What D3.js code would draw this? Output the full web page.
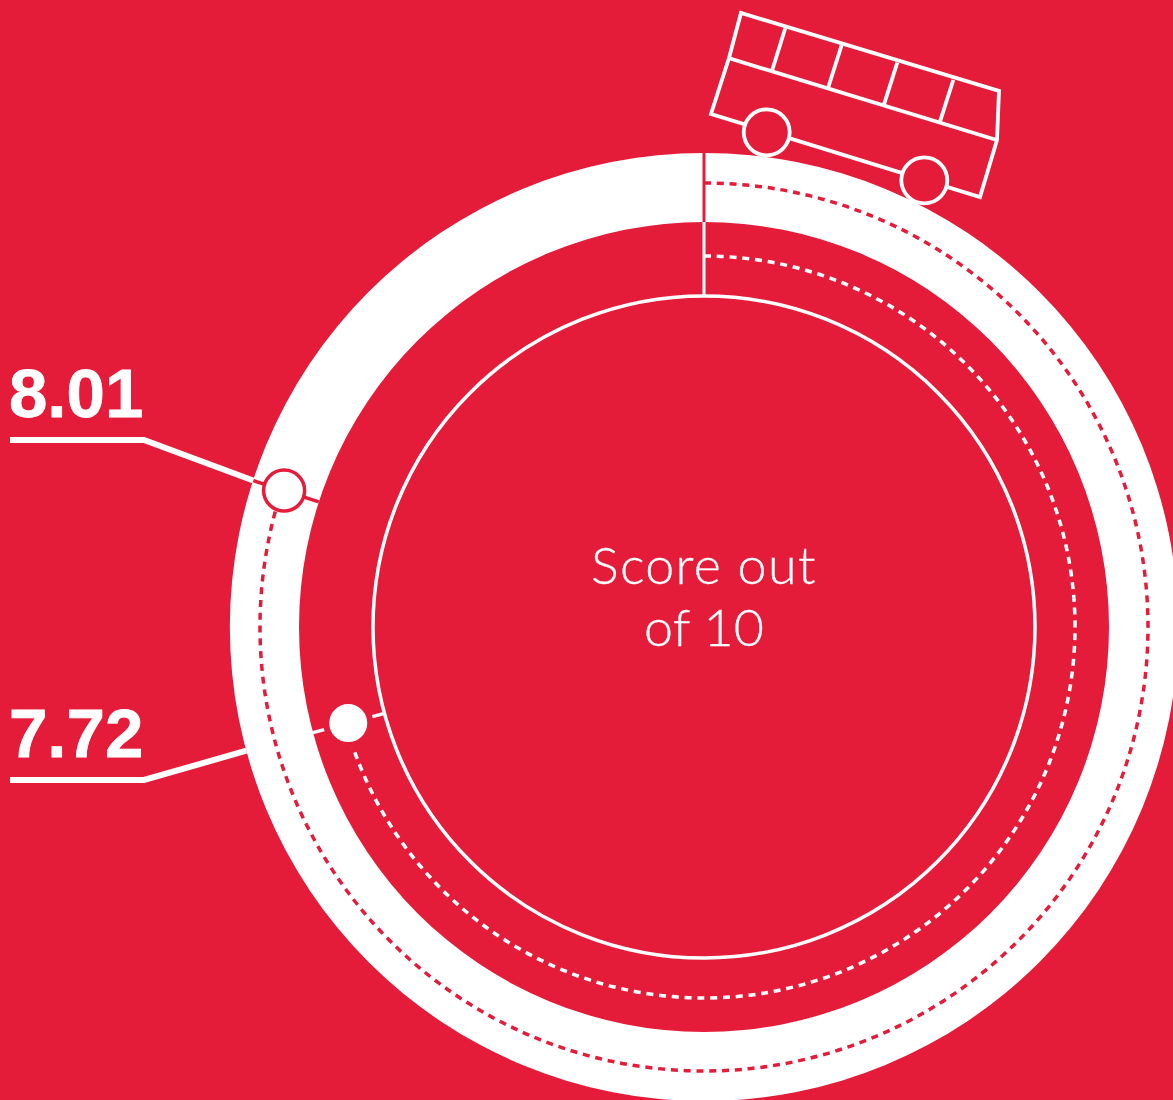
<!DOCTYPE html>
<html>
<head>
<meta charset="utf-8">
<script src="https://cdn.jsdelivr.net/npm/d3@7"></script>
<style>
    html, body { margin: 0; padding: 0; background: #e41c3a; overflow: hidden; }
    svg { display: block; }
</style>
</head>
<body>
<div id="chart-container"></div>
<script>
// score text next to each leader, and where the marker actually sits on the 0-10 dial
const scoreLabels = ["8.01", "7.72"];
const markerScores = [8.0, 7.08];
const ringNames = ["outer", "inner"];
const centerLines = ["Score out", "of 10"];

const width = 1173;
const height = 1100;
const red = "#e41c3a";
const cx = 704;
const cy = 627;

const bandOuter = 474;
const bandInner = 405;
const innerCircle = 331;
const trackRadius = { outer: 444, inner: 371 };
const markerRadius = { outer: 441.5, inner: 368.5 };
const labelLineY = [440, 780];
const labelBaseY = [417, 757];

const angle = d3.scaleLinear().domain([0, 10]).range([0, 2 * Math.PI]);

// angle 0 is at 12 o'clock, going clockwise
function polar(score, r) {
    const a = angle(score);
    return [cx + r * Math.sin(a), cy - r * Math.cos(a)];
}

const svg = d3.select("#chart-container")
    .append("svg")
    .attr("width", width)
    .attr("height", height);

svg.append("rect")
    .attr("width", width)
    .attr("height", height)
    .attr("fill", red);

const dial = svg.append("g")
    .attr("transform", "translate(" + cx + "," + cy + ")");

dial.append("path")
    .attr("d", d3.arc()
        .innerRadius(bandInner)
        .outerRadius(bandOuter)
        .startAngle(0)
        .endAngle(2 * Math.PI)())
    .attr("fill", "white");

dial.append("circle")
    .attr("r", innerCircle)
    .attr("fill", "none")
    .attr("stroke", "white")
    .attr("stroke-width", 3.5);

// start ticks at 10 (top of the dial)
svg.append("line")
    .attr("x1", polar(0, bandOuter)[0]).attr("y1", polar(0, bandOuter)[1])
    .attr("x2", polar(0, bandInner)[0]).attr("y2", polar(0, bandInner)[1])
    .attr("stroke", red)
    .attr("stroke-width", 3);

svg.append("line")
    .attr("x1", polar(0, bandInner)[0]).attr("y1", polar(0, bandInner)[1])
    .attr("x2", polar(0, innerCircle)[0]).attr("y2", polar(0, innerCircle)[1])
    .attr("stroke", "white")
    .attr("stroke-width", 3);

// dashed tracks from the top round to each marker
ringNames.forEach(function(name, i) {
    const p = d3.path();
    p.arc(0, 0, trackRadius[name],
        -Math.PI / 2,
        angle(markerScores[i]) - Math.PI / 2);
    dial.append("path")
        .attr("d", p.toString())
        .attr("fill", "none")
        .attr("stroke", i === 0 ? red : "white")
        .attr("stroke-width", 3.5)
        .attr("stroke-dasharray", "7 5.8");
});

// radial ticks through each marker
svg.append("line")
    .attr("x1", polar(markerScores[0], bandOuter)[0]).attr("y1", polar(markerScores[0], bandOuter)[1])
    .attr("x2", polar(markerScores[0], bandInner)[0]).attr("y2", polar(markerScores[0], bandInner)[1])
    .attr("stroke", red)
    .attr("stroke-width", 3.5);

svg.append("line")
    .attr("x1", polar(markerScores[1], bandInner)[0]).attr("y1", polar(markerScores[1], bandInner)[1])
    .attr("x2", polar(markerScores[1], innerCircle)[0]).attr("y2", polar(markerScores[1], innerCircle)[1])
    .attr("stroke", "white")
    .attr("stroke-width", 3.5);

// markers
ringNames.forEach(function(name, i) {
    const pos = polar(markerScores[i], markerRadius[name]);
    svg.append("circle")
        .attr("cx", pos[0])
        .attr("cy", pos[1])
        .attr("r", i === 0 ? 20.5 : 22)
        .attr("fill", "white")
        .attr("stroke", red)
        .attr("stroke-width", i === 0 ? 3.5 : 6);
});

// leaders and score labels
scoreLabels.forEach(function(label, i) {
    const end = polar(markerScores[i], bandOuter);
    svg.append("path")
        .attr("d", d3.line()([[10, labelLineY[i]], [144, labelLineY[i]], end]))
        .attr("fill", "none")
        .attr("stroke", "white")
        .attr("stroke-width", 6);

    svg.append("text")
        .attr("x", 9)
        .attr("y", labelBaseY[i])
        .attr("fill", "white")
        .attr("stroke", "white")
        .attr("stroke-width", 0.8)
        .style("font-family", "'Liberation Sans', Arial, sans-serif")
        .style("font-weight", "bold")
        .style("font-size", "69px")
        .text(label);
});

// centre caption
svg.selectAll(".caption")
    .data(centerLines)
    .enter().append("text")
    .attr("class", "caption")
    .attr("x", cx)
    .attr("y", function(d, i) { return 584 + i * 62; })
    .attr("text-anchor", "middle")
    .attr("fill", "white")
    .attr("stroke", "white")
    .attr("stroke-width", 0.3)
    .style("font-family", "Lato, sans-serif")
    .style("font-weight", 300)
    .style("font-size", "52px")
    .style("letter-spacing", function(d, i) { return i === 0 ? "1.3px" : "0px"; })
    .text(function(d) { return d; });

// bus pictogram on top of the dial
const bus = svg.append("g")
    .attr("fill", "none")
    .attr("stroke", "white")
    .attr("stroke-width", 3.8)
    .attr("stroke-linejoin", "miter");

bus.append("path")
    .attr("d", "M729,58 L741,13 L999,91 L997,140 L980,197 L711,114 Z");
bus.append("path")
    .attr("d", "M729.3,58.3 L996.7,140");
bus.append("path")
    .attr("d", "M785.3,28.3 L772,70.7 M841.7,45 L828.3,87.3 M897.3,62.7 L884,104.3 M953.3,80 L940,121.7");
bus.append("circle")
    .attr("cx", 766.7).attr("cy", 132.3).attr("r", 23).attr("fill", red);
bus.append("circle")
    .attr("cx", 924.3).attr("cy", 180.3).attr("r", 23).attr("fill", red);
</script>
</body>
</html>
